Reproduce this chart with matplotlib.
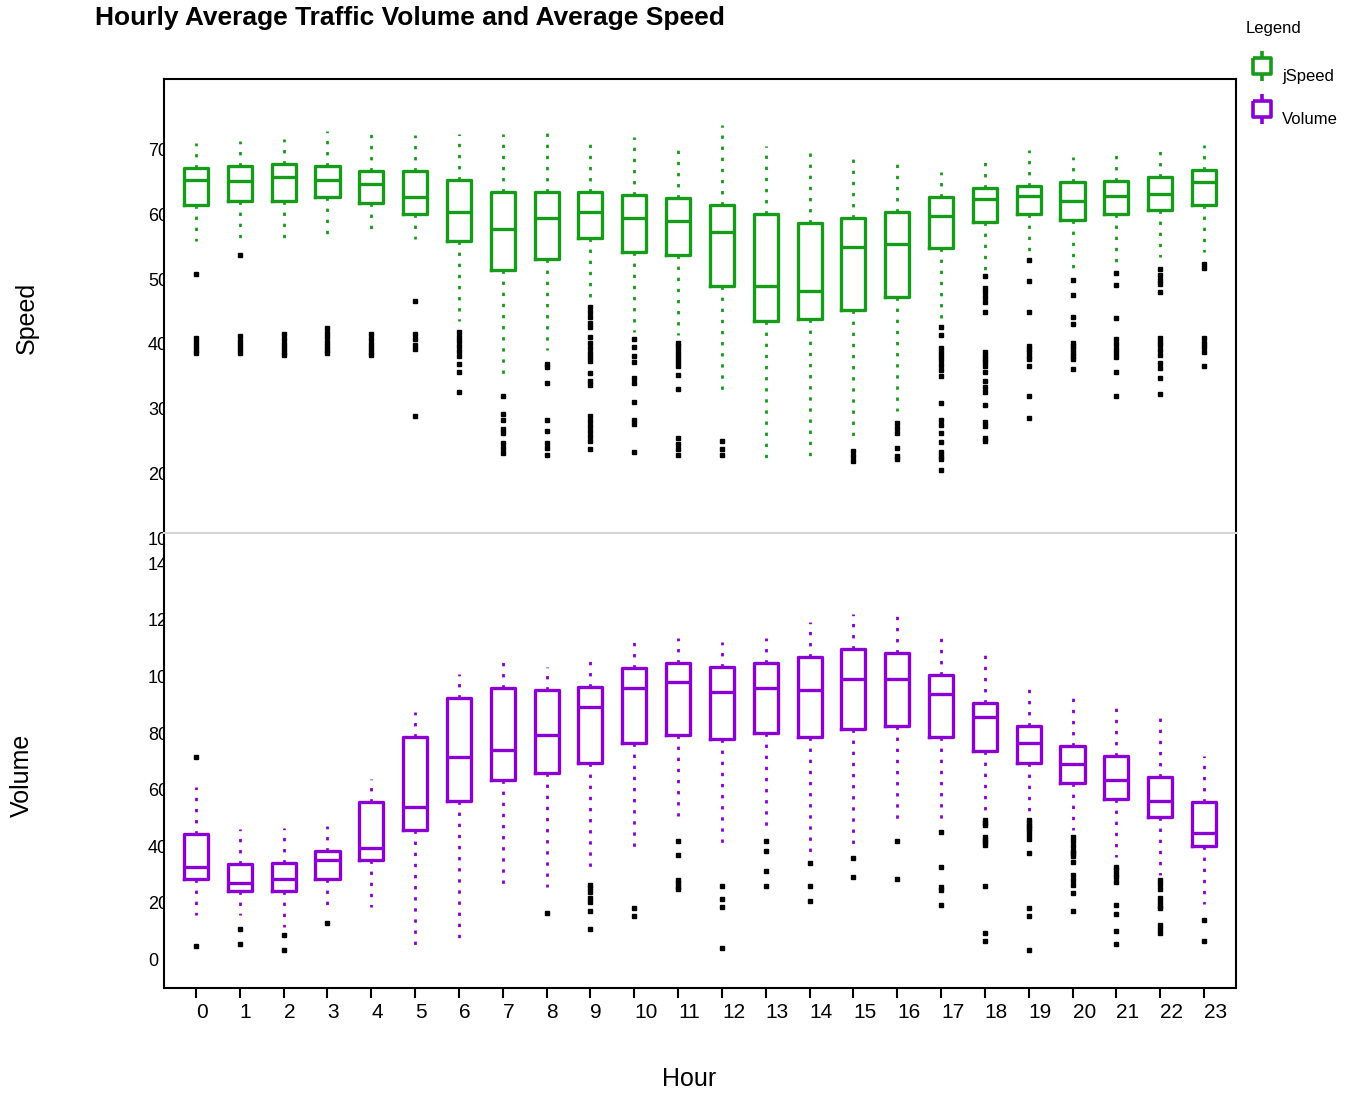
import numpy as np
import matplotlib
matplotlib.use("Agg")
import matplotlib.pyplot as plt
from matplotlib.path import Path
from matplotlib.lines import Line2D
from matplotlib.transforms import ScaledTranslation, blended_transform_factory

plt.rcParams["font.family"] = ["Liberation Sans", "DejaVu Sans"]

hours = list(range(24))

# Speed box statistics
speed_whishi = [71.3, 71.7, 71.9, 73.1, 72.7, 72.5, 72.7, 72.7, 73.1, 71.3, 72.2, 70.3,
                74.1, 70.9, 69.8, 69.0, 68.0, 66.9, 68.4, 70.3, 69.2, 69.6, 70.3, 71.0]
speed_q3 = [67.4, 67.7, 68.0, 67.7, 67.0, 67.0, 65.6, 63.8, 63.8, 63.8, 63.3, 62.8,
            61.8, 60.3, 58.9, 59.8, 60.6, 63.0, 64.4, 64.7, 65.3, 65.5, 66.1, 67.1]
speed_med = [65.6, 65.5, 66.0, 65.6, 65.0, 63.0, 60.6, 58.0, 59.8, 60.6, 59.8, 59.3,
             57.5, 49.3, 48.4, 55.2, 55.8, 60.1, 62.7, 63.1, 62.4, 63.1, 63.5, 65.3]
speed_q1 = [61.8, 62.4, 62.4, 63.0, 62.0, 60.3, 56.2, 51.7, 53.4, 56.6, 54.5, 54.0,
            49.3, 43.9, 44.2, 45.6, 47.5, 55.1, 59.1, 60.3, 59.4, 60.3, 60.9, 61.8]
speed_whislo = [56.2, 56.7, 56.7, 57.3, 58.1, 56.5, 43.9, 35.6, 39.3, 47.5, 42.1, 41.6,
                33.2, 22.7, 22.9, 26.0, 30.0, 44.3, 51.7, 54.5, 51.9, 52.9, 53.7, 54.5]
speed_fliers = [
    [51.1, 41.2, 40.6, 40.0, 39.4, 38.9],
    [54.1, 41.5, 40.8, 40.1, 39.5, 38.9],
    [41.8, 41.0, 40.3, 39.6, 39.0, 38.6],
    [42.7, 42.0, 41.3, 40.6, 39.9, 39.3, 38.9],
    [41.8, 41.0, 40.3, 39.6, 39.0, 38.6],
    [46.9, 41.8, 41.0, 40.2, 39.5, 29.1],
    [42.1, 41.4, 40.8, 40.0, 39.2, 38.5, 37.2, 35.9, 32.9],
    [32.3, 29.4, 28.6, 27.1, 26.6, 25.0, 24.3, 23.5],
    [37.2, 36.7, 34.3, 28.6, 26.9, 25.0, 24.2, 23.2],
    [46.0, 45.2, 44.4, 43.6, 42.9, 41.3, 40.5, 39.7, 38.9, 38.2, 37.7, 35.8, 34.6, 33.9,
     29.2, 28.4, 27.6, 26.9, 26.1, 25.3, 24.0],
    [41.1, 39.8, 38.5, 37.5, 35.1, 34.3, 31.4, 28.6, 27.9, 23.6],
    [40.5, 39.9, 39.3, 38.7, 38.1, 37.5, 36.9, 35.5, 33.3, 25.7, 24.9, 24.0, 23.2],
    [25.3, 24.0, 23.1],
    [],
    [],
    [23.8, 23.0, 22.2],
    [28.1, 27.3, 26.6, 24.3, 23.0, 22.5],
    [42.9, 41.6, 39.6, 39.0, 38.5, 37.8, 37.0, 36.2, 35.4, 31.1,
     28.6, 27.7, 26.6, 25.1, 23.6, 23.0, 22.5, 20.9],
    [50.8, 48.9, 48.3, 47.5, 46.8, 45.3, 39.0, 38.5, 38.0, 37.5, 36.9, 35.9, 34.6, 33.7,
     32.8, 30.8, 28.2, 27.6, 25.8, 25.3],
    [53.2, 50.0, 45.3, 40.0, 39.5, 39.0, 38.4, 37.9, 36.9, 32.3, 28.9],
    [50.2, 47.8, 44.4, 43.4, 40.5, 40.0, 39.5, 38.9, 38.4, 37.9, 36.4],
    [51.2, 49.4, 44.3, 41.0, 40.3, 39.5, 38.9, 38.2, 36.0, 32.3],
    [51.8, 51.0, 50.2, 49.6, 48.3, 41.2, 40.6, 40.1, 39.3, 38.6, 37.4, 36.6, 35.1, 32.6],
    [52.7, 52.0, 41.2, 40.5, 39.8, 39.1, 36.9],
]

# Volume box statistics
volume_whishi = [61.8, 46.7, 47.3, 47.9, 64.5, 88.2, 101.5, 105.6, 104.1, 106.2, 112.9, 114.1,
                 112.7, 114.1, 120.0, 122.7, 122.3, 114.1, 108.2, 96.2, 92.9, 89.8, 86.5, 72.6]
volume_q3 = [45.0, 34.4, 34.9, 39.2, 56.2, 79.4, 93.2, 96.5, 95.9, 97.0, 103.7, 105.3,
             103.9, 105.3, 107.6, 110.3, 109.0, 101.2, 91.2, 83.2, 76.1, 72.7, 65.3, 56.2]
volume_med = [33.5, 27.9, 29.1, 35.9, 40.2, 54.7, 72.1, 74.7, 80.0, 90.0, 96.5, 98.6,
              95.3, 96.5, 95.9, 99.8, 99.8, 94.5, 86.5, 77.3, 69.7, 64.1, 56.7, 45.5]
volume_q1 = [29.1, 25.1, 25.1, 29.1, 35.9, 46.5, 56.8, 64.1, 66.7, 70.0, 77.3, 80.0,
             78.6, 80.6, 79.4, 82.1, 83.2, 79.4, 74.5, 70.0, 62.9, 57.4, 51.0, 40.9]
volume_whislo = [16.5, 16.5, 12.4, 20.0, 19.4, 5.3, 7.9, 27.3, 26.2, 33.5, 40.6, 51.4,
                 42.0, 47.6, 38.8, 41.2, 50.2, 50.0, 53.5, 52.9, 46.5, 37.1, 30.6, 20.4]
volume_fliers = [
    [72.3, 5.5],
    [11.4, 6.2],
    [9.4, 4.1],
    [13.5],
    [],
    [],
    [],
    [],
    [17.1],
    [27.1, 25.9, 24.7, 22.4, 21.2, 18.0, 11.4],
    [18.8, 16.1],
    [42.7, 37.6, 28.8, 27.6, 26.5, 25.5],
    [26.7, 22.1, 19.4, 4.9],
    [42.7, 39.2, 32.0, 26.7],
    [34.7, 26.7, 21.4],
    [36.7, 30.0],
    [42.6, 29.3],
    [45.9, 33.3, 26.5, 25.3, 20.0],
    [50.0, 49.1, 48.2, 44.1, 43.0, 42.1, 41.2, 26.7, 10.2, 7.4],
    [50.0, 49.0, 48.0, 47.1, 46.0, 44.6, 43.4, 38.2, 18.8, 16.1, 4.1],
    [43.9, 42.6, 40.9, 39.2, 38.2, 37.2, 35.3, 30.6, 28.8, 27.1, 24.3, 18.0],
    [33.5, 32.3, 31.0, 29.9, 28.2, 20.0, 16.8, 10.8, 6.1],
    [28.8, 27.4, 25.5, 22.4, 21.2, 19.8, 18.8, 12.9, 11.5, 10.2],
    [14.7, 7.4],
]

speed_ticks = [10, 20, 30, 40, 50, 60, 70]
volume_ticks = [0, 20, 40, 60, 80, 100, 120, 140]

green = "#169b1a"
purple = "#8a00d4"


def make_stats(lo, q1, med, q3, hi, fl):
    return [dict(whislo=a, q1=b, med=c, q3=d, whishi=e, fliers=f)
            for a, b, c, d, e, f in zip(lo, q1, med, q3, hi, fl)]


fig = plt.figure(figsize=(13.54, 10.93), dpi=100)
W, H = 1354, 1093
left, right = 164 / W, 1236 / W
ax_s = fig.add_axes([left, 1 - 533 / H, right - left, 454 / H])
ax_v = fig.add_axes([left, 1 - 988 / H, right - left, 455 / H])

for ax, stats, col in (
    (ax_s, make_stats(speed_whislo, speed_q1, speed_med, speed_q3, speed_whishi, speed_fliers), green),
    (ax_v, make_stats(volume_whislo, volume_q1, volume_med, volume_q3, volume_whishi, volume_fliers), purple),
):
    ax.set_zorder(2)
    ax.bxp(
        stats,
        positions=hours,
        widths=0.55,
        showcaps=False,
        manage_ticks=False,
        boxprops=dict(color=col, linewidth=2.4, solid_joinstyle="round"),
        medianprops=dict(color=col, linewidth=2.4),
        whiskerprops=dict(color=col, linewidth=2.0, linestyle=(0, (1.2, 2.8))),
        flierprops=dict(marker="s", markersize=2.8, markerfacecolor="k",
                        markeredgecolor="k", linestyle="none"),
    )
    ax.set_xlim(-0.73, 23.73)
    ax.set_yticks([])
    for sp in ax.spines.values():
        sp.set_linewidth(1.5)

ax_s.set_ylim(11.1, 81.2)
ax_v.set_ylim(-9.3, 151.3)

ax_s.spines["bottom"].set_visible(False)
ax_s.tick_params(bottom=False, labelbottom=False)
ax_v.spines["top"].set_color("#d4d4d4")

ax_v.set_xticks(hours)
ax_v.set_xticklabels([str(h) for h in hours], ha="left")
ax_v.tick_params(axis="x", length=7.5, width=1.5, labelsize=15, pad=3)

# y tick labels sit under the axes, so the plot area cuts them off
for ax, ticks in ((ax_s, speed_ticks), (ax_v, volume_ticks)):
    trans = blended_transform_factory(fig.transFigure, ax.transData)
    for t in ticks:
        fig.text(148 / W, t, str(t), transform=trans, ha="left", va="center",
                 fontsize=13, zorder=1)

fig.text(95 / W, 1 - 18 / H, "Hourly Average Traffic Volume and Average Speed",
         ha="left", va="center", fontsize=19, fontweight="bold")
fig.text(27 / W, 1 - 318 / H, "Speed", rotation=90, ha="center", va="center", fontsize=18)
fig.text(22 / W, 1 - 775 / H, "Volume", rotation=90, ha="center", va="center", fontsize=18)
fig.text(689 / W, 1 - 1079 / H, "Hour", ha="center", va="center", fontsize=18)

# legend
box_icon = Path(
    [(0, 0.5), (0, 0.28), (-0.3, 0.28), (0.3, 0.28), (0.3, -0.28), (-0.3, -0.28),
     (-0.3, 0.28), (0, -0.28), (0, -0.5)],
    [Path.MOVETO, Path.LINETO, Path.MOVETO, Path.LINETO, Path.LINETO, Path.LINETO,
     Path.LINETO, Path.MOVETO, Path.LINETO],
)
fig.text(1246 / W, 1 - 29 / H, "Legend", ha="left", va="center", fontsize=12)
for name, col, yy in (("jSpeed", green, 66), ("Volume", purple, 109)):
    fig.add_artist(Line2D([1262 / W], [1 - yy / H], transform=fig.transFigure,
                          marker=box_icon, markersize=21, markerfacecolor="none",
                          markeredgecolor=col, markeredgewidth=2.6, linestyle="none"))
    fig.text(1282 / W, 1 - (yy + 10) / H, name, ha="left", va="center", fontsize=12)

fig.savefig("out.png", dpi=100)
